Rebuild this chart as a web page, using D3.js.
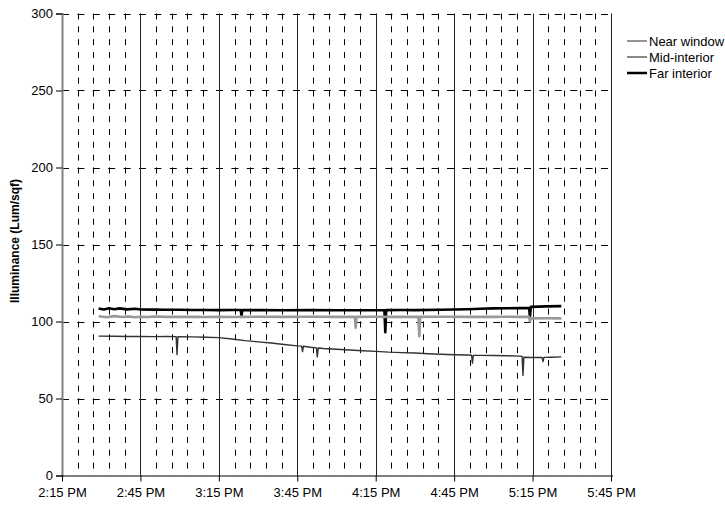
<!DOCTYPE html>
<html><head><meta charset="utf-8">
<script src="https://cdn.jsdelivr.net/npm/d3@7"></script>
<style>
html,body{margin:0;padding:0;background:#fff;}
svg{display:block;font-family:"Liberation Sans",Arial,sans-serif;}
</style></head>
<body><svg id="c" width="725" height="506"></svg>
<script>
// ---- data ----
const seriesNames = ["Near window", "Mid-interior", "Far interior"];
const yTicks = [0, 50, 100, 150, 200, 250, 300];
const xTickLabels = ["2:15 PM","2:45 PM","3:15 PM","3:45 PM","4:15 PM","4:45 PM","5:15 PM","5:45 PM"];

const nearTimes = ["14:29:00","14:35:00","14:40:00","14:45:00","14:50:00","14:55:00","14:58:40","14:59:00","14:59:20","15:05:00","15:10:00","15:15:00","15:20:00","15:25:00","15:30:00","15:35:00","15:40:00","15:45:00","15:46:40","15:47:00","15:47:20","15:50:00","15:52:20","15:52:40","15:53:00","15:55:00","16:00:00","16:05:00","16:10:00","16:15:00","16:20:00","16:25:00","16:30:00","16:35:00","16:40:00","16:45:00","16:50:00","16:51:40","16:52:00","16:52:20","16:55:00","17:00:00","17:05:00","17:10:00","17:11:00","17:11:20","17:11:40","17:15:00","17:18:40","17:19:00","17:19:20","17:22:00","17:26:00"];
const nearValues = [90.5,90.4,90.3,90.3,90.2,90.3,90.2,78.5,90.1,90.0,89.8,89.5,88.6,87.6,86.8,86.0,85.1,84.2,84.0,80.5,83.9,83.3,82.9,77.0,82.8,82.5,82.0,81.5,81.0,80.6,80.1,79.8,79.5,79.1,78.7,78.4,78.2,78.1,73.0,78.0,78.0,77.9,77.8,77.5,77.3,65.0,76.8,76.6,76.6,74.0,76.7,76.8,77.0];

const midTimes = ["14:29:00","14:32:00","14:35:00","14:38:00","14:40:00","14:43:00","14:45:00","14:48:00","14:50:00","14:55:00","15:00:00","15:05:00","15:10:00","15:15:00","15:20:00","15:25:00","15:30:00","15:40:00","15:50:00","16:00:00","16:07:00","16:07:20","16:07:40","16:15:00","16:20:00","16:25:00","16:31:20","16:31:40","16:32:00","16:40:00","16:50:00","17:00:00","17:05:00","17:10:00","17:13:40","17:14:00","17:14:20","17:20:00","17:26:00"];
const midValues = [103.4,102.8,103.5,102.9,103.3,102.8,103.1,102.9,103.2,103.0,103.1,103.0,102.9,103.0,102.9,103.0,103.1,103.0,103.1,103.0,103.0,96.0,103.0,103.1,103.0,103.0,103.0,90.5,103.0,103.1,103.0,103.0,103.1,103.0,103.0,100.0,102.0,102.1,102.0];

const farTimes = ["14:29:00","14:31:00","14:33:00","14:35:00","14:37:00","14:40:00","14:43:00","14:45:00","14:50:00","14:55:00","15:00:00","15:05:00","15:10:00","15:15:00","15:20:00","15:23:20","15:23:40","15:24:00","15:30:00","15:40:00","15:50:00","16:00:00","16:10:00","16:18:20","16:18:40","16:19:00","16:25:00","16:30:00","16:40:00","16:45:00","16:50:00","16:55:00","17:00:00","17:05:00","17:10:00","17:13:40","17:14:00","17:14:20","17:20:00","17:26:00"];
const farValues = [108.4,107.8,108.6,108.0,108.5,107.9,108.3,107.8,107.7,107.6,107.6,107.5,107.5,107.4,107.5,107.5,104.0,107.4,107.4,107.3,107.4,107.3,107.3,107.3,93.0,107.4,107.5,107.4,107.6,107.8,108.0,108.3,108.5,108.6,108.7,108.8,103.0,109.5,109.8,110.0];

// ---- layout ----
const svg = d3.select("#c");
const L = 62, R = 611, T = 13.5, B = 475.5;
const parse = d3.timeParse("%H:%M:%S");
const t0 = parse("14:15:00"), t1 = parse("17:45:00");
const x = d3.scaleTime().domain([t0, t1]).range([L, R]);
const y = d3.scaleLinear().domain([0, 300]).range([B, T]);

const g = svg.append("g");

const major = xTickLabels.map((_, i) => d3.timeMinute.offset(t0, 30 * i));
const minor = d3.range(1, 35).filter(i => i % 5 !== 0).map(i => d3.timeMinute.offset(t0, 6 * i));

// minor vertical dashed gridlines (every 6 min)
g.selectAll("line.vminor").data(minor).join("line")
  .attr("x1", d => Math.round(x(d)) + 0.5).attr("x2", d => Math.round(x(d)) + 0.5)
  .attr("y1", T).attr("y2", B)
  .attr("stroke", "#000").attr("stroke-width", 1).attr("stroke-dasharray", "6,6.83");

// horizontal dashed gridlines
g.selectAll("line.hgrid").data(yTicks.filter(v => v > 0)).join("line")
  .attr("x1", L).attr("x2", R)
  .attr("y1", d => Math.round(y(d)) + 0.5).attr("y2", d => Math.round(y(d)) + 0.5)
  .attr("stroke", "#000").attr("stroke-width", 1).attr("stroke-dasharray", "7,8.4");

// major vertical solid gridlines
g.selectAll("line.vmajor").data(major.slice(1)).join("line")
  .attr("x1", d => Math.round(x(d)) + 0.5).attr("x2", d => Math.round(x(d)) + 0.5)
  .attr("y1", T).attr("y2", B)
  .attr("stroke", "#222").attr("stroke-width", 1);

// y axis
const yAxis = d3.axisLeft(y).tickValues(yTicks).tickSize(6).tickPadding(3);
const ya = svg.append("g").attr("transform", `translate(${L},0)`).call(yAxis);
ya.select(".domain").attr("stroke", "#808080").attr("stroke-width", 2);
ya.selectAll(".tick line").attr("stroke", "#000");
ya.selectAll("text").attr("font-size", 13).attr("fill", "#000").attr("font-family", "Liberation Sans, Arial, sans-serif");

// x axis
const xAxis = d3.axisBottom(x).tickValues(major).tickSize(6).tickPadding(6)
  .tickFormat((d, i) => xTickLabels[i]);
const xa = svg.append("g").attr("transform", `translate(0,${B})`).call(xAxis);
xa.select(".domain").attr("stroke", "#000").attr("stroke-width", 1.2).attr("d", `M${L},0.5H${R + 2}`);
xa.selectAll(".tick line").attr("stroke", "#000");
xa.selectAll("text").attr("font-size", 13).attr("fill", "#000").attr("font-family", "Liberation Sans, Arial, sans-serif");

// y axis title
svg.append("text")
  .attr("transform", "translate(19,241) rotate(-90)")
  .attr("text-anchor", "middle")
  .attr("font-size", 12).attr("font-weight", "bold").attr("fill", "#000")
  .text("Illuminance  (Lum/sqf)");

// series
const line = d3.line().x(d => x(d[0])).y(d => y(d[1]));
const mk = (ts, vs) => ts.map((t, i) => [parse(t), vs[i]]);
const styles = [
  {data: mk(nearTimes, nearValues), color: "#333", w: 1.4},
  {data: mk(midTimes, midValues), color: "#999", w: 2.6},
  {data: mk(farTimes, farValues), color: "#000", w: 2.6}
];
styles.slice().reverse().forEach(s => {
  svg.append("path").datum(s.data).attr("d", line)
    .attr("fill", "none").attr("stroke", s.color).attr("stroke-width", s.w)
    .attr("stroke-linejoin", "round");
});

// legend
const legendColors = ["#707070", "#8a8a8a", "#000"];
const legendWidths = [1.5, 2, 2.5];
const lg = svg.append("g").attr("transform", "translate(627,0)");
seriesNames.forEach((n, i) => {
  const yy = 41 + i * 16;
  lg.append("line").attr("x1", 0).attr("x2", 20).attr("y1", yy).attr("y2", yy)
    .attr("stroke", legendColors[i]).attr("stroke-width", legendWidths[i]);
  lg.append("text").attr("x", 22).attr("y", yy).attr("dy", "0.35em")
    .attr("font-size", 13).attr("fill", "#000").text(n);
});
</script></body></html>
